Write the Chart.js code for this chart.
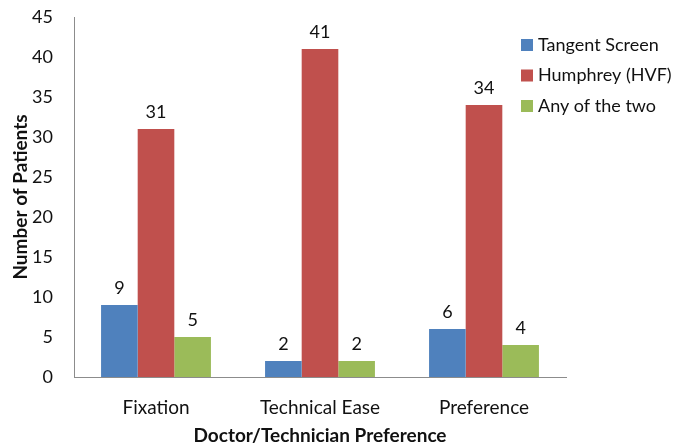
<!DOCTYPE html>
<html>
<head>
<meta charset="utf-8">
<title>Doctor/Technician Preference</title>
<script src="https://cdn.jsdelivr.net/npm/chart.js@4"></script>
<style>
  html, body { margin: 0; padding: 0; background: #ffffff; }
  #wrap { width: 676px; height: 448px; }
</style>
</head>
<body>
<div id="wrap"><canvas id="myChart" width="676" height="448"></canvas></div>
<script>
"use strict";

const categories = ["Fixation", "Technical Ease", "Preference"];
const seriesNames = ["Tangent Screen", "Humphrey (HVF)", "Any of the two"];
const tangentScreen = [9, 2, 6];
const humphrey = [31, 41, 34];
const anyOfTwo = [5, 2, 4];
const seriesColors = ["#4F81BD", "#C0504D", "#9BBB59"];
const yTicks = [0, 5, 10, 15, 20, 25, 30, 35, 40, 45];

const FONT = "Lato";
const TEXT = "#111111";

window.addEventListener("DOMContentLoaded", init);

function init() {
  drawChart();
}

// number above each bar
const valueLabels = {
  id: "valueLabels",
  afterDatasetsDraw(chart) {
    const ctx = chart.ctx;
    ctx.save();
    ctx.font = "18px " + FONT;
    ctx.fillStyle = TEXT;
    ctx.textAlign = "center";
    ctx.textBaseline = "bottom";
    chart.data.datasets.forEach(function (ds, i) {
      const meta = chart.getDatasetMeta(i);
      meta.data.forEach(function (bar, j) {
        ctx.fillText(String(ds.data[j]), bar.x, bar.y - 8);
      });
    });
    ctx.restore();
  },
};

// legend sits in the upper right corner, over the empty part of the plot
const sideLegend = {
  id: "sideLegend",
  afterDraw(chart) {
    const ctx = chart.ctx;
    const x = 521;
    let y = 45;
    ctx.save();
    ctx.font = "18px " + FONT;
    ctx.textBaseline = "middle";
    ctx.textAlign = "left";
    chart.data.datasets.forEach(function (ds) {
      ctx.fillStyle = ds.backgroundColor;
      ctx.fillRect(x, y - 6, 12, 12);
      ctx.fillStyle = TEXT;
      ctx.fillText(ds.label, x + 17, y);
      y += 30.5;
    });
    ctx.restore();
  },
};

function drawChart() {
  const ctx = document.getElementById("myChart").getContext("2d");
  const values = [tangentScreen, humphrey, anyOfTwo];

  const datasets = [];
  for (let i = 0; i < seriesNames.length; i++) {
    datasets.push({
      label: seriesNames[i],
      data: values[i],
      backgroundColor: seriesColors[i],
      borderWidth: 0,
      categoryPercentage: 0.67,
      barPercentage: 1.0,
    });
  }

  const myChart = new Chart(ctx, {
    type: "bar",
    data: {
      labels: categories,
      datasets: datasets,
    },
    options: {
      responsive: false,
      animation: false,
      layout: {
        padding: { left: 0, right: 110, top: 17, bottom: 0 },
      },
      plugins: {
        legend: { display: false },
        tooltip: { enabled: false },
      },
      scales: {
        x: {
          grid: { display: false, drawTicks: false },
          border: { display: true, color: "#8c8c8c", width: 1 },
          ticks: {
            color: TEXT,
            font: { family: FONT, size: 19 },
            padding: 19,
            maxRotation: 0,
          },
          title: {
            display: true,
            text: "Doctor/Technician Preference",
            color: TEXT,
            font: { family: FONT, size: 19, weight: "bold" },
            padding: { top: 0, bottom: 1 },
          },
          afterFit: function (scale) {
            scale.height = 71;
          },
        },
        y: {
          min: 0,
          max: 45,
          afterBuildTicks: function (scale) {
            scale.ticks = yTicks.map(function (v) {
              return { value: v };
            });
          },
          grid: { display: false, drawTicks: false },
          border: { display: true, color: "#8c8c8c", width: 1 },
          ticks: {
            color: TEXT,
            font: { family: FONT, size: 18 },
            padding: 21,
          },
          title: {
            display: true,
            text: "Number of Patients",
            color: TEXT,
            font: { family: FONT, size: 19, weight: "bold" },
            padding: { top: 9, bottom: 0 },
          },
          afterFit: function (scale) {
            scale.width = 74;
            // tick padding would otherwise push the plot top down
            scale.paddingTop = 10;
            scale.paddingBottom = 10;
          },
        },
      },
    },
    plugins: [valueLabels, sideLegend],
  });
}
</script>
</body>
</html>
